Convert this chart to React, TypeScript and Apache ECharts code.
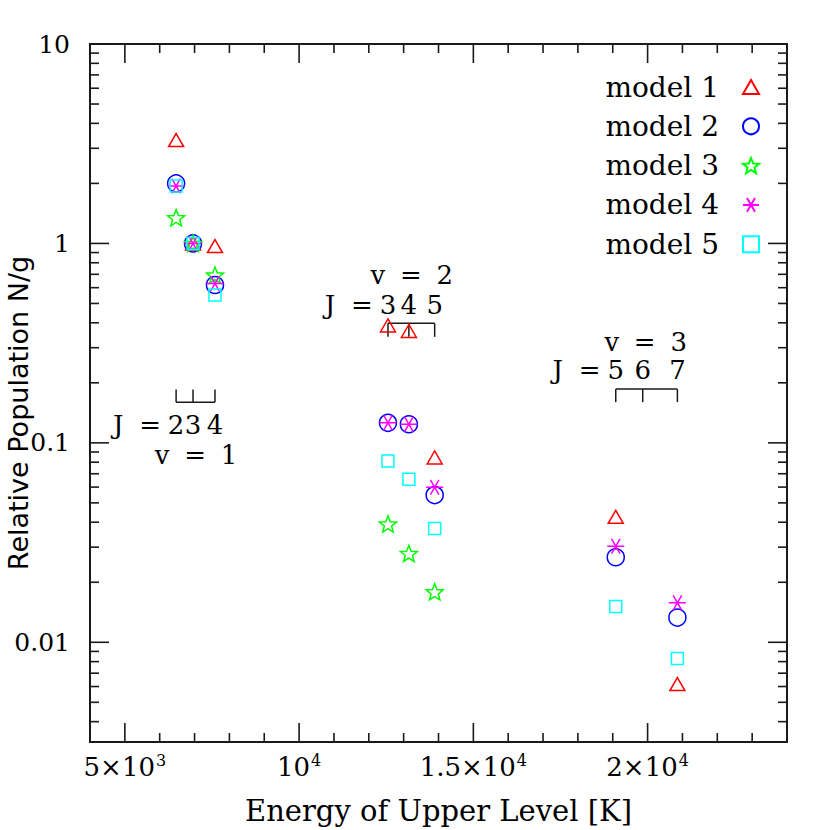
import React, { useEffect, useRef } from "react";
import * as echarts from "echarts";

// ---------- data ----------
const levelNames = ["v1 J2", "v1 J3", "v1 J4", "v2 J3", "v2 J4", "v2 J5", "v3 J5", "v3 J7"];
const levelEnergies = [6471, 6956, 7586, 12550, 13150, 13890, 19086, 20855];

const model1 = [3.3, 1.0, 0.97, 0.388, 0.364, 0.0845, 0.0426, 0.00617];
const model2 = [2.0, 1.0, 0.619, 0.126, 0.124, 0.0547, 0.0267, 0.0133];
const model3 = [1.346, 1.0, 0.694, 0.0392, 0.0279, 0.0179, null, null];
const model4 = [1.94, 1.0, 0.63, 0.126, 0.124, 0.0599, 0.0303, 0.0158];
const model5 = [1.94, 1.0, 0.551, 0.081, 0.0656, 0.0372, 0.0151, 0.0083];

const seriesNames = ["model 1", "model 2", "model 3", "model 4", "model 5"];
const seriesValues = [model1, model2, model3, model4, model5];
const seriesColors = ["#ff0000", "#0000ff", "#00ff00", "#ff00ff", "#00ffff"];

const xMajorTicks = [5000, 10000, 15000, 20000];
const xMinorTicks = [6000, 7000, 8000, 9000, 11000, 12000, 13000, 14000, 16000, 17000, 18000, 19000, 21000, 22000, 23000];
const xTickMain: Record<number, string> = { 5000: "5×10", 10000: "10", 15000: "1.5×10", 20000: "2×10" };
const xTickExp: Record<number, string> = { 5000: "3", 10000: "4", 15000: "4", 20000: "4" };

const yMajorTicks = [0.01, 0.1, 1, 10];
const yMajorLabels = ["0.01", "0.1", "1", "10"];
const yMinorTicks = [
  0.004, 0.005, 0.006, 0.007, 0.008, 0.009,
  0.02, 0.03, 0.04, 0.05, 0.06, 0.07, 0.08, 0.09,
  0.2, 0.3, 0.4, 0.5, 0.6, 0.7, 0.8, 0.9,
  2, 3, 4, 5, 6, 7, 8, 9,
];

// vibrational bands annotation
const bandV = ["1", "2", "3"];
const bandJ = [["2", "3", "4"], ["3", "4", "5"], ["5", "6", "7"]];
const bandEnergies = [[6471, 6956, 7586], [12550, 13150, 13890], [19086, 19860, 20855]];
const bracketLineY = [0.16, 0.3975, 0.186];
const bracketTickY = [0.185, 0.34, 0.16];
const jLabelY = [0.1228, 0.491, 0.2317];
const vLabelY = [0.0869, 0.694, 0.321];

const X_MIN = 4000;
const X_MAX = 24000;
const Y_MIN = Math.pow(10, -2.5);
const Y_MAX = 10;

const SERIF = '"DejaVu Serif", serif';

// ---------- symbols ----------
const starPts = Array.from({ length: 10 }, (_, k) => {
  const r = k % 2 === 0 ? 10 : 4.3;
  const a = -Math.PI / 2 + (k * Math.PI) / 5;
  return [r * Math.cos(a), r * Math.sin(a)];
});
const starPath = "path://M" + starPts.map((p) => p[0].toFixed(2) + "," + p[1].toFixed(2)).join(" L") + " Z";
const asteriskPath = "path://M-10,0 L10,0 M-5,-8.66 L5,8.66 M-5,8.66 L5,-8.66";
const trianglePath = "path://M0,0 L15,26 L-15,26 Z";
const squarePath = "path://M0,0 L10,0 L10,10 L0,10 Z";
const seriesSymbols = [trianglePath, "circle", starPath, asteriskPath, squarePath];
const seriesSizes = [15, 17, 17, 17, 12];

export default function App() {
  const ref = useRef<HTMLDivElement>(null);

  useEffect(() => {
    if (!ref.current) return;
    const chart = echarts.init(ref.current, null, { renderer: "svg" });

    const scatterSeries = seriesNames.map((name, si) => ({
      name,
      type: "scatter",
      symbol: seriesSymbols[si],
      symbolSize: seriesSizes[si],
      symbolKeepAspect: true,
      z: 5 + si,
      itemStyle: { color: "transparent", borderColor: seriesColors[si], borderWidth: 1.5, opacity: 1 },
      data: levelEnergies
        .map((e, i) => (seriesValues[si][i] == null ? null : [e, seriesValues[si][i]]))
        .filter((d) => d !== null),
    }));

    const yTickData = [
      ...yMajorTicks.map((v) => [X_MIN, v, 19]),
      ...yMinorTicks.map((v) => [X_MIN, v, 9]),
    ];
    const xTickData = [
      ...xMajorTicks.map((v) => [v, Y_MIN, 19]),
      ...xMinorTicks.map((v) => [v, Y_MIN, 9]),
    ];

    const tickStyle = { stroke: "#1a1a1a", lineWidth: 1.6 };

    const bracketData = bandEnergies.map((e, i) => [e[0], e[1], e[2], bracketLineY[i], bracketTickY[i]]);

    type Ann = { x: number; y: number; text: string; dx: number; align: string };
    const annotations: Ann[] = [];
    bandEnergies.forEach((e, i) => {
      bandJ[i].forEach((j, k) => annotations.push({ x: e[k], y: jLabelY[i], text: j, dx: 0, align: "center" }));
      annotations.push({ x: e[0], y: jLabelY[i], text: "J", dx: -58, align: "center" });
      annotations.push({ x: e[0], y: jLabelY[i], text: "=", dx: -26, align: "center" });
      annotations.push({ x: e[1], y: vLabelY[i], text: "v", dx: -31, align: "center" });
      annotations.push({ x: e[1], y: vLabelY[i], text: "=", dx: 2, align: "center" });
      annotations.push({ x: e[1], y: vLabelY[i], text: bandV[i], dx: 36, align: "center" });
    });

    chart.setOption({
      animation: false,
      grid: {
        left: 90,
        top: 44,
        width: 697,
        height: 698,
        show: true,
        borderColor: "#1a1a1a",
        borderWidth: 2,
        backgroundColor: "transparent",
      },
      legend: {
        data: seriesNames,
        orient: "vertical",
        right: 70,
        top: 73,
        align: "right",
        itemWidth: 16,
        itemHeight: 16,
        itemGap: 11.3,
        padding: 0,
        selectedMode: false,
        symbolKeepAspect: true,
        formatter: (name: string) => "{t|" + name + "}{g|}",
        textStyle: {
          fontFamily: SERIF,
          fontSize: 28,
          color: "#000",
          rich: {
            t: { fontFamily: SERIF, fontSize: 28, color: "#000", lineHeight: 26 },
            g: { width: 19, lineHeight: 26 },
          },
        },
      },
      xAxis: {
        type: "value",
        min: X_MIN,
        max: X_MAX,
        interval: 1000,
        axisLine: { show: false },
        axisTick: { show: false },
        splitLine: { show: false },
        axisLabel: {
          margin: 10,
          formatter: (v: number) => (xTickMain[v] ? "{m|" + xTickMain[v] + "}{s|" + xTickExp[v] + "}" : ""),
          rich: {
            m: { fontFamily: SERIF, fontSize: 26, color: "#000", lineHeight: 30 },
            s: { fontFamily: SERIF, fontSize: 16, color: "#000", verticalAlign: "top", lineHeight: 30, padding: [0, 0, 0, 1] },
          },
        },
        name: "Energy of Upper Level [K]",
        nameLocation: "middle",
        nameGap: 54,
        nameTextStyle: { fontFamily: SERIF, fontSize: 29, color: "#000" },
      },
      yAxis: {
        type: "log",
        logBase: 10,
        min: Y_MIN,
        max: Y_MAX,
        axisLine: { show: false },
        axisTick: { show: false },
        splitLine: { show: false },
        minorTick: { show: false },
        axisLabel: { show: false },
      },
      series: [
        ...scatterSeries,
        {
          type: "custom",
          name: "yticks",
          coordinateSystem: "cartesian2d",
          silent: true,
          clip: false,
          z: 3,
          data: yTickData,
          renderItem: (params: any, api: any) => {
            const y = api.value(1);
            const len = api.value(2);
            const l = api.coord([X_MIN, y]);
            const r = api.coord([X_MAX, y]);
            return {
              type: "group",
              children: [
                { type: "line", shape: { x1: l[0], y1: l[1], x2: l[0] + len, y2: l[1] }, style: tickStyle },
                { type: "line", shape: { x1: r[0], y1: r[1], x2: r[0] - len, y2: r[1] }, style: tickStyle },
              ],
            };
          },
        },
        {
          type: "custom",
          name: "xticks",
          coordinateSystem: "cartesian2d",
          silent: true,
          clip: false,
          z: 3,
          data: xTickData,
          renderItem: (params: any, api: any) => {
            const x = api.value(0);
            const len = api.value(2);
            const b = api.coord([x, Y_MIN]);
            const t = api.coord([x, Y_MAX]);
            return {
              type: "group",
              children: [
                { type: "line", shape: { x1: b[0], y1: b[1], x2: b[0], y2: b[1] - len }, style: tickStyle },
                { type: "line", shape: { x1: t[0], y1: t[1], x2: t[0], y2: t[1] + len }, style: tickStyle },
              ],
            };
          },
        },
        {
          type: "custom",
          name: "brackets",
          coordinateSystem: "cartesian2d",
          silent: true,
          clip: false,
          z: 4,
          data: bracketData,
          renderItem: (params: any, api: any) => {
            const xs = [api.value(0), api.value(1), api.value(2)];
            const yl = api.value(3);
            const yt = api.value(4);
            const st = { stroke: "#1a1a1a", lineWidth: 1.5 };
            const a = api.coord([xs[0], yl]);
            const c = api.coord([xs[2], yl]);
            const children: any[] = [{ type: "line", shape: { x1: a[0], y1: a[1], x2: c[0], y2: c[1] }, style: st }];
            xs.forEach((x) => {
              const p = api.coord([x, yl]);
              const q = api.coord([x, yt]);
              children.push({ type: "line", shape: { x1: p[0], y1: p[1], x2: q[0], y2: q[1] }, style: st });
            });
            return { type: "group", children };
          },
        },
        {
          type: "custom",
          name: "annotations",
          coordinateSystem: "cartesian2d",
          silent: true,
          clip: false,
          z: 4,
          data: annotations.map((a) => [a.x, a.y]),
          renderItem: (params: any, api: any) => {
            const a = annotations[params.dataIndex];
            const p = api.coord([api.value(0), api.value(1)]);
            return {
              type: "text",
              x: p[0] + a.dx,
              y: p[1],
              style: {
                text: a.text,
                fontFamily: SERIF,
                fontSize: 26,
                fill: "#000",
                align: a.align,
                verticalAlign: "middle",
              },
            };
          },
        },
      ],
    });

    // y tick labels placed through the axis scale, and the y axis title
    const yLabelGraphics = yMajorTicks.map((v, i) => {
      const py = chart.convertToPixel({ yAxisIndex: 0 }, v) as number;
      const px = chart.convertToPixel({ xAxisIndex: 0 }, X_MIN) as number;
      return {
        type: "text",
        x: px - 20,
        y: py,
        z: 10,
        style: {
          text: yMajorLabels[i],
          fontFamily: SERIF,
          fontSize: 25,
          fill: "#000",
          align: "right",
          verticalAlign: "middle",
        },
      };
    });
    chart.setOption({
      graphic: [
        ...yLabelGraphics,
        {
          type: "text",
          x: 18,
          y: 413,
          z: 9,
          rotation: Math.PI / 2,
          style: {
            text: "Relative Population N/g",
            fontFamily: '"DejaVu Sans", sans-serif',
            fontSize: 27,
            fill: "#000",
            align: "center",
            verticalAlign: "middle",
          },
        },
      ],
    });

    return () => chart.dispose();
  }, []);

  return (
    <div
      ref={ref}
      style={{ position: "fixed", left: 0, top: 0, width: 830, height: 830, background: "#fff" }}
    />
  );
}
